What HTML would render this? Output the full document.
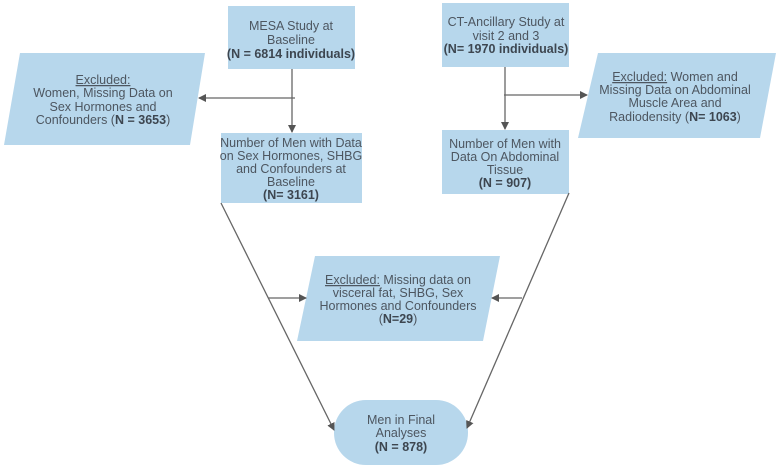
<!DOCTYPE html>
<html><head><meta charset="utf-8"><style>
html,body{margin:0;padding:0;background:#fff;}
svg{display:block;}
text{font-family:"Liberation Sans",sans-serif;font-size:12.5px;fill:#4d5660;text-anchor:middle;}
.b{font-weight:bold;fill:#3d4650;}
</style></head><body>
<svg width="780" height="468" viewBox="0 0 780 468" xmlns="http://www.w3.org/2000/svg">
<defs>
<marker id="a" markerWidth="8" markerHeight="8" refX="7" refY="4" orient="auto" markerUnits="userSpaceOnUse">
<path d="M0,0 L8,4 L0,8 Z" fill="#555"/></marker>
</defs>
<g fill="#b7d7ec">
<rect x="228" y="6" width="127" height="63"/>
<polygon points="20,53 205,53 190,145 4,145"/>
<rect x="221" y="133" width="141" height="70"/>
<rect x="442" y="3" width="127" height="64"/>
<polygon points="598,53 776,53 760,138 578,138"/>
<rect x="442" y="130" width="127" height="64"/>
<polygon points="315,256 500,256 483,341 297,341"/>
<rect x="334" y="400" width="134" height="65" rx="32"/>
</g>
<g stroke="#666" stroke-width="1.3" fill="none">
<line x1="292" y1="69" x2="292" y2="132" marker-end="url(#a)"/>
<line x1="295" y1="98" x2="199" y2="98" marker-end="url(#a)"/>
<line x1="505" y1="67" x2="505" y2="129" marker-end="url(#a)"/>
<line x1="504" y1="95" x2="587" y2="95" marker-end="url(#a)"/>
<line x1="221" y1="203" x2="334" y2="430" marker-end="url(#a)"/>
<line x1="569" y1="193" x2="467" y2="428" marker-end="url(#a)"/>
<line x1="268" y1="298" x2="306" y2="298" marker-end="url(#a)"/>
<line x1="522" y1="298" x2="492" y2="298" marker-end="url(#a)"/>
</g>
<text x="291" y="30">MESA Study at</text>
<text x="291" y="44">Baseline</text>
<text x="291" y="58" class="b">(N = 6814 individuals)</text>

<text x="103" y="84" text-decoration="underline">Excluded:</text>
<text x="103" y="97">Women, Missing Data on</text>
<text x="103" y="111">Sex Hormones and</text>
<text x="103" y="124">Confounders (<tspan class="b">N = 3653</tspan>)</text>

<text x="291" y="147">Number of Men with Data</text>
<text x="291" y="160">on Sex Hormones, SHBG</text>
<text x="291" y="173">and Confounders at</text>
<text x="291" y="186">Baseline</text>
<text x="291" y="199" class="b">(N= 3161)</text>

<text x="506" y="26">CT-Ancillary Study at</text>
<text x="506" y="40">visit 2 and 3</text>
<text x="506" y="53" class="b">(N= 1970 individuals)</text>

<text x="675" y="81"><tspan text-decoration="underline">Excluded:</tspan> Women and</text>
<text x="675" y="94">Missing Data on Abdominal</text>
<text x="675" y="107">Muscle Area and</text>
<text x="675" y="121">Radiodensity (<tspan class="b">N= 1063</tspan>)</text>

<text x="505" y="148">Number of Men with</text>
<text x="505" y="161">Data On Abdominal</text>
<text x="505" y="174">Tissue</text>
<text x="505" y="187" class="b">(N = 907)</text>

<text x="398" y="284"><tspan text-decoration="underline">Excluded:</tspan> Missing data on</text>
<text x="398" y="297">visceral fat, SHBG, Sex</text>
<text x="398" y="310">Hormones and Confounders</text>
<text x="398" y="323">(<tspan class="b">N=29</tspan>)</text>

<text x="401" y="424">Men in Final</text>
<text x="401" y="437">Analyses</text>
<text x="401" y="451" class="b">(N = 878)</text>
</svg>
</body></html>
